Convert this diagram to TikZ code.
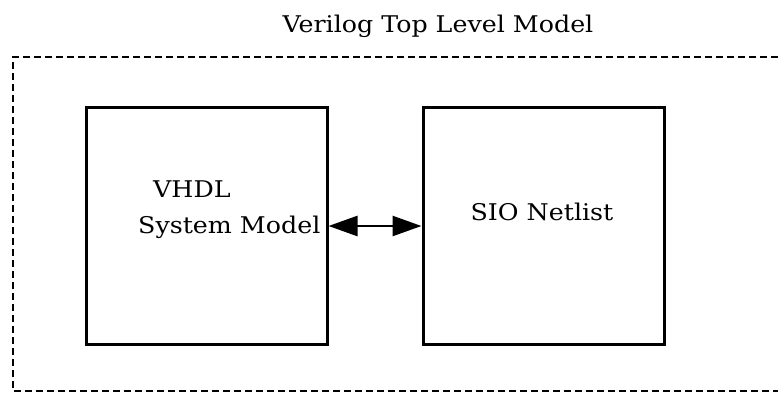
\documentclass[tikz,border=0pt]{standalone}
\usepackage{fontspec}
\setmainfont[FakeStretch=1.1]{DejaVu Serif}
\usetikzlibrary{arrows.meta}

\begin{document}
\begin{tikzpicture}[x=1pt,y=-1pt,font=\fontsize{23}{27}\selectfont]
\tikzstyle{blk}=[draw,line width=3pt,minimum width=241pt,minimum height=237pt]
\tikzstyle{link}=[<->,line width=2.6pt,>={Triangle[length=29pt,width=20pt]}]
\useasboundingbox (0,0) rectangle (778,394);

\node (0) at (438,32) [anchor=base,inner sep=0pt]{Verilog Top Level Model};
\draw[line width=2.6pt,dash pattern=on 7pt off 4pt] (778,57) -- (13,57) -- (13,391) -- (778,391);

\node (1) at (206.5,226) [blk]{};
\node (2) at (543.5,226) [blk]{};

\node (3) at (153,197) [anchor=base west,inner sep=0pt]{VHDL};
\node (4) at (138,233) [anchor=base west,inner sep=0pt]{System Model};
\node (5) at (542,220) [anchor=base,inner sep=0pt]{SIO Netlist};

\draw[link] (1) -- (2);
\end{tikzpicture}
\end{document}
